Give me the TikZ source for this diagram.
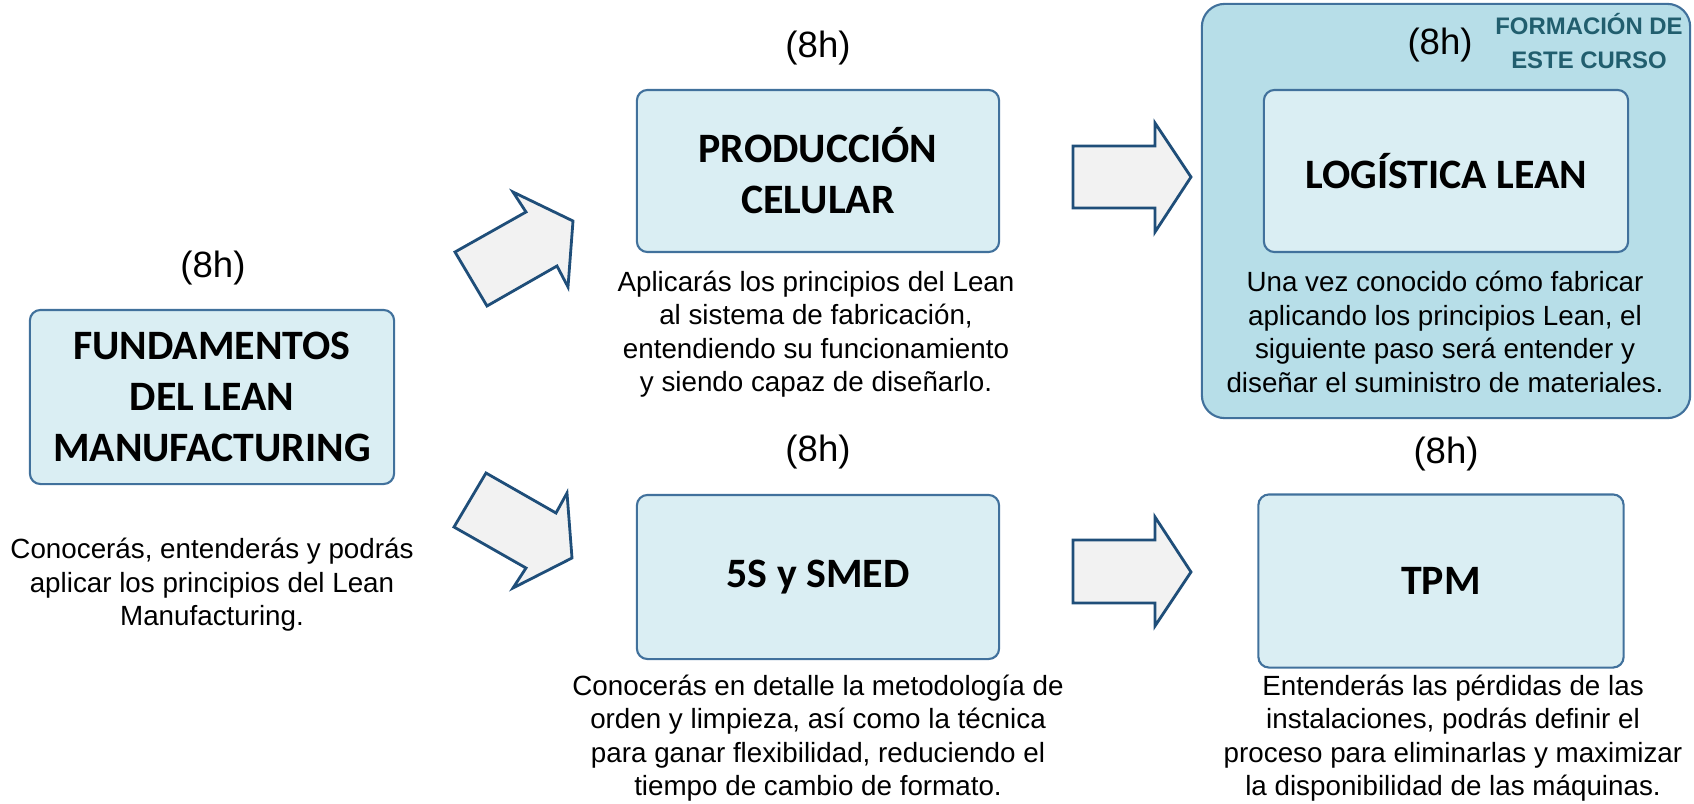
\documentclass[tikz,border=0pt]{standalone}
\usepackage{fontspec}
\setmainfont{Liberation Sans}
\newfontfamily\titlefont{Carlito}
\usepackage{tikz}
\usetikzlibrary{positioning}
\definecolor{boxfill}{HTML}{DAEEF3}
\definecolor{boxline}{HTML}{41719C}
\definecolor{outerfill}{HTML}{B7DEE8}
\definecolor{arrowline}{HTML}{1F4E79}
\definecolor{arrowfill}{HTML}{F2F2F2}
\definecolor{tagtext}{HTML}{215E6E}

\begin{document}
\begin{tikzpicture}[x=0.01cm,y=-0.01cm,
    course/.style={draw=boxline,line width=0.6pt,fill=boxfill,rounded corners=3pt,align=center,
        font=\titlefont\bfseries\fontsize{11.9}{14.5}\selectfont},
    hours/.style={font=\fontsize{10.4}{12}\selectfont,inner sep=0pt},
    desc/.style={align=center,inner sep=0pt,font=\fontsize{7.9}{9.5}\selectfont},
    bigarrow/.style={draw=arrowline,line width=0.8pt,fill=arrowfill,line join=miter}]
    \useasboundingbox (0,0) rectangle (1694,803);
    % frame of this course
    \node[draw=boxline,line width=0.6pt,fill=outerfill,rounded corners=6.5pt,
        minimum width=4.88cm,minimum height=4.14cm] (curso) at (1446,211) {};
    \node[align=center,inner sep=0pt,text=tagtext,font=\bfseries\fontsize{6.8}{9.4}\selectfont]
        (tag) at (1589,41) {FORMACIÓN DE\\ESTE CURSO};
    % boxes
    \node[course,minimum width=3.64cm,minimum height=1.74cm] (fund) at (212,397) {FUNDAMENTOS\\DEL LEAN\\MANUFACTURING};
    \node[course,minimum width=3.62cm,minimum height=1.62cm] (prod) at (818,171) {PRODUCCIÓN\\CELULAR};
    \node[course,minimum width=3.62cm,minimum height=1.64cm] (smed) at (818,577) {5S y SMED};
    \node[course,minimum width=3.64cm,minimum height=1.62cm] (logis) at (1446,171) {LOGÍSTICA LEAN};
    \node[course,minimum width=3.65cm,minimum height=1.73cm] (tpm) at (1441,581) {TPM};
    % hours
    \node[hours] (hfund) at (213,268) {(8h)};
    \node[hours] (hprod) at (818,48) {(8h)};
    \node[hours] (hsmed) at (818,452) {(8h)};
    \node[hours] (hlogis) at (1440,45) {(8h)};
    \node[hours] (htpm) at (1446,454) {(8h)};
    % texts
    \node[desc] (dfund) at (212,585) {Conocerás, entenderás y podrás\\aplicar los principios del Lean\\Manufacturing.};
    \node[desc] (dprod) at (816,334) {Aplicarás los principios del Lean\\al sistema de fabricación,\\entendiendo su funcionamiento\\y siendo capaz de diseñarlo.};
    \node[desc] (dlogis) at (1445,332) {Una vez conocido cómo fabricar\\aplicando los principios Lean, el\\siguiente paso será entender y\\diseñar el suministro de materiales.};
    \node[desc] (dsmed) at (818,738) {Conocerás en detalle la metodología de\\orden y limpieza, así como la técnica\\para ganar flexibilidad, reduciendo el\\tiempo de cambio de formato.};
    \node[desc] (dtpm) at (1453,738) {Entenderás las pérdidas de las\\instalaciones, podrás definir el\\proceso para eliminarlas y maximizar\\la disponibilidad de las máquinas.};
    % arrows
    \draw[bigarrow] (455,252) -- (526,212) -- (513,192) -- (573,221) -- (568,287) -- (557,266) -- (487,306) -- cycle;
    \draw[bigarrow] (454,527) -- (486,473) -- (556,513) -- (567,493) -- (572,558) -- (513,588) -- (526,568) -- cycle;
    \draw[bigarrow] (1073,146) -- (1155,146) -- (1155,123) -- (1191,177) -- (1155,232) -- (1155,208) -- (1073,208) -- cycle;
    \draw[bigarrow] (1073,540) -- (1155,540) -- (1155,517) -- (1191,572) -- (1155,626) -- (1155,603) -- (1073,603) -- cycle;
\end{tikzpicture}
\end{document}
